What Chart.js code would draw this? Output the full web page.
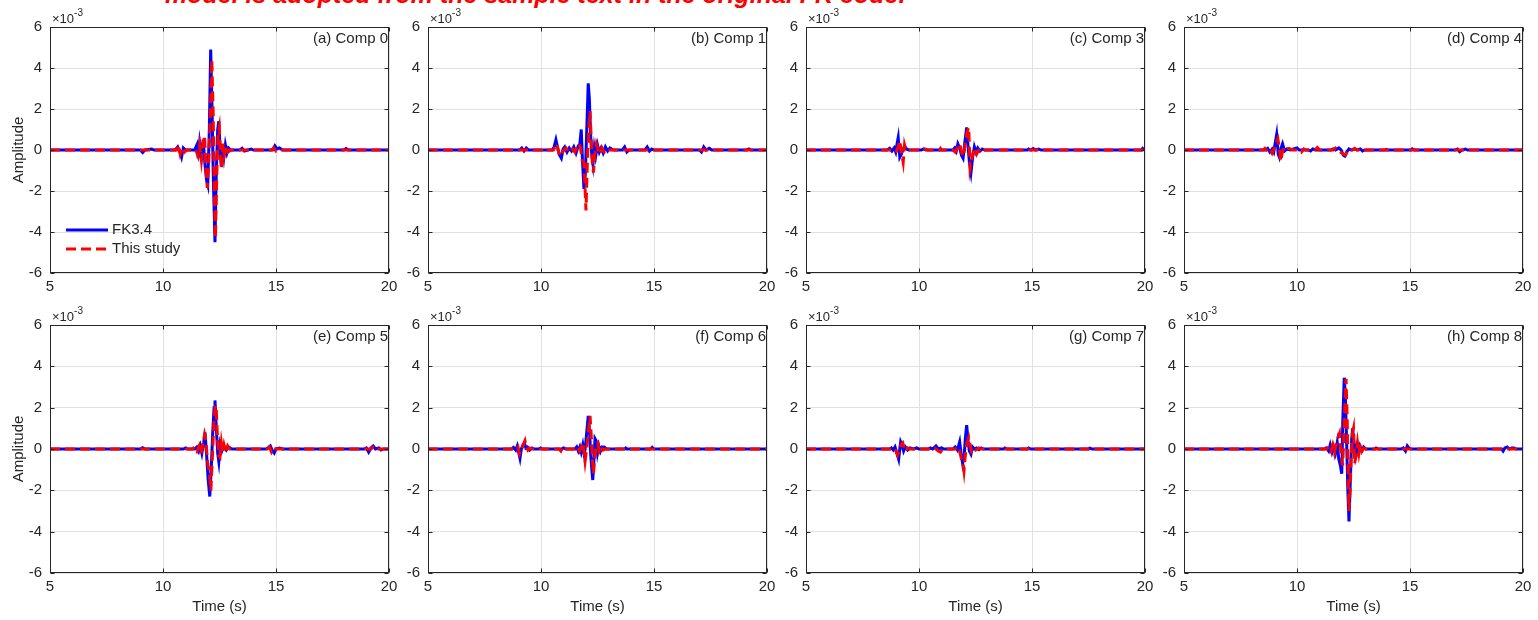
<!DOCTYPE html>
<html>
<head>
<meta charset="utf-8">
<script src="https://cdn.jsdelivr.net/npm/chart.js@4"></script>
<style>
  body { margin: 0; background: #fff; width: 1538px; height: 620px; overflow: hidden; position: relative; }
  .panel { position: absolute; }
  #title {
    position: absolute; left: 165px; top: -18px; white-space: nowrap;
    font: italic bold 25px "Liberation Sans", Arial, sans-serif; line-height: 25px; color: #ff0000;
  }
</style>
</head>
<body>
<div id="title">model is adopted from the sample text in the original FK code.</div>
<script>
// amplitudes are in units of 1e-3, pairs are [time (s), amplitude]
const xTicks = [5, 10, 15, 20];
const yTicks = [-6, -4, -2, 0, 2, 4, 6];
const seriesNames = ["FK3.4", "This study"];
const panelLabels = ["(a) Comp 0", "(b) Comp 1", "(c) Comp 3", "(d) Comp 4",
  "(e) Comp 5", "(f) Comp 6", "(g) Comp 7", "(h) Comp 8"];

const comp0Fk = [[5,0],[9.0,0],[9.1,-0.12],[9.2,0],[9.5,0.05],[9.6,0],[10.55,0],[10.65,0.15],[10.75,-0.1],[10.82,-0.35],[10.9,0.1],[11.0,0],[11.4,0],[11.5,0.25],[11.56,-0.4],[11.62,0.35],[11.7,-0.3],[11.78,0.5],[11.85,-0.6],[11.93,-1.5],[11.98,-1.7],[12.05,1.0],[12.11,4.9],[12.17,2.0],[12.23,-1.5],[12.3,-4.5],[12.36,-1.0],[12.42,1.0],[12.47,1.4],[12.52,0.2],[12.58,-0.8],[12.64,0.3],[12.7,-0.3],[12.76,0.25],[12.83,-0.15],[12.9,0.1],[13.0,0],[13.4,0],[13.5,0.08],[13.6,-0.05],[13.75,0],[13.9,0.05],[14.0,0],[14.85,0],[14.95,0.2],[15.05,0.05],[15.15,0.1],[15.3,0],[18.0,0],[18.1,0.07],[18.2,0],[20,0]];
const comp0Ts = [[5,0],[10.6,0],[10.68,0.25],[10.76,-0.2],[10.85,0.1],[10.95,-0.1],[11.05,0],[11.45,0],[11.55,-0.3],[11.62,0.25],[11.7,-0.5],[11.77,0.3],[11.84,0.7],[11.9,-0.9],[11.96,-1.85],[12.03,-0.5],[12.1,2.0],[12.16,4.4],[12.22,1.8],[12.27,-2.0],[12.32,-4.3],[12.38,-1.2],[12.44,0.8],[12.49,1.1],[12.55,-0.3],[12.6,-0.9],[12.66,0.3],[12.72,-0.2],[12.8,0.2],[12.88,-0.1],[13.0,0],[14.8,0],[14.9,0.1],[15.0,-0.05],[15.1,0],[20,0]];

const comp1Fk = [[5,0],[9.05,0],[9.15,0.1],[9.25,-0.05],[9.35,0.1],[9.45,0],[10.5,0],[10.58,0.15],[10.66,0.5],[10.74,0.1],[10.8,-0.2],[10.9,-0.4],[10.98,0.05],[11.05,0.15],[11.15,-0.1],[11.25,0.1],[11.35,-0.05],[11.45,0.15],[11.55,-0.15],[11.65,0.2],[11.72,0.3],[11.78,1.0],[11.84,-0.6],[11.9,-1.9],[11.96,-1.2],[12.02,0.8],[12.09,3.25],[12.14,2.5],[12.2,0.6],[12.25,-0.3],[12.3,-0.7],[12.36,0.1],[12.42,-0.3],[12.5,0.25],[12.58,-0.1],[12.66,0.1],[12.75,-0.15],[12.85,0.15],[12.95,-0.05],[13.05,0.1],[13.2,0],[13.6,0],[13.7,0.15],[13.8,-0.1],[13.9,0],[14.6,0],[14.7,0.15],[14.8,-0.05],[14.9,0.05],[15.0,0],[17.0,0],[17.1,-0.1],[17.2,0.15],[17.3,0],[17.45,0.08],[17.55,0],[19.1,0],[19.2,0.05],[19.3,0],[20,0]];
const comp1Ts = [[5,0],[10.05,0],[10.12,0.08],[10.2,0],[10.55,0],[10.62,0.15],[10.7,0.3],[10.78,-0.1],[10.88,-0.3],[10.98,-0.05],[11.1,0.1],[11.2,-0.05],[11.35,0.1],[11.5,-0.1],[11.6,0.15],[11.68,0.3],[11.75,0.1],[11.82,-0.5],[11.9,-0.6],[11.99,-2.95],[12.06,-0.3],[12.12,1.2],[12.17,1.9],[12.22,0.6],[12.27,-0.6],[12.32,-1.1],[12.38,-0.2],[12.45,0.3],[12.52,0.05],[12.6,-0.2],[12.7,0.1],[12.8,-0.1],[12.9,0.05],[13.0,0],[20,0]];

const comp3Fk = [[5,0],[8.6,0],[8.7,0.08],[8.8,-0.05],[8.9,0.1],[8.97,-0.1],[9.03,0.3],[9.08,0.6],[9.15,-0.35],[9.22,-0.2],[9.3,0.05],[9.36,0.2],[9.45,0.05],[9.55,0],[10.1,0],[10.2,0.05],[10.3,0],[11.5,0],[11.58,0.1],[11.65,-0.05],[11.72,0.3],[11.8,0.1],[11.88,-0.25],[11.95,-0.4],[12.03,0.4],[12.11,1.1],[12.17,0.2],[12.23,-0.6],[12.3,-1.1],[12.38,-0.3],[12.45,0.15],[12.52,-0.1],[12.6,0.1],[12.7,-0.05],[12.8,0.05],[12.9,0],[14.8,0],[14.85,0.05],[14.95,0],[15.05,0.07],[15.15,0],[15.3,0.05],[15.4,0],[19.85,0],[19.9,0.08],[20,0]];
const comp3Ts = [[5,0],[8.8,0],[8.9,0.05],[9.0,-0.05],[9.08,0.15],[9.15,0.45],[9.22,-0.1],[9.3,-0.6],[9.36,0.25],[9.42,0],[10.2,0],[10.25,0.05],[10.4,0],[10.9,0],[10.95,0.08],[11.0,0],[11.5,0],[11.6,-0.1],[11.7,0.1],[11.8,0.3],[11.88,-0.1],[11.97,-0.3],[12.05,0.3],[12.13,0.9],[12.2,1.1],[12.26,-0.9],[12.33,-0.5],[12.4,-0.1],[12.47,0.1],[12.55,-0.2],[12.62,-0.05],[12.7,0.05],[12.8,-0.05],[12.9,0],[20,0]];

const comp4Fk = [[5,0],[8.6,0],[8.7,0.08],[8.8,-0.1],[8.9,0.05],[8.97,-0.1],[9.03,0.3],[9.1,0.75],[9.17,-0.2],[9.22,-0.35],[9.3,0.1],[9.36,0.3],[9.45,-0.05],[9.55,0.05],[9.7,0],[9.85,0.05],[10.0,0.1],[10.1,0],[10.5,0],[10.6,-0.05],[10.7,0.05],[10.85,0],[11.5,0],[11.6,0.05],[11.7,0],[11.85,0.1],[11.95,0],[12.05,-0.25],[12.12,-0.3],[12.2,-0.1],[12.3,0.05],[12.4,0],[12.55,0.05],[12.65,0],[12.8,0.05],[12.9,-0.05],[13.0,0],[13.9,0],[13.95,0.03],[14.0,0],[15.05,0],[15.1,0.06],[15.2,0],[17.0,0],[17.1,0.05],[17.2,-0.08],[17.3,0],[17.45,0.05],[17.55,0],[20,0]];
const comp4Ts = [[5,0],[8.5,0],[8.58,0.08],[8.65,0],[8.8,0.1],[8.9,-0.15],[9.0,0.1],[9.08,0.35],[9.15,0.55],[9.22,0.1],[9.28,-0.55],[9.35,-0.1],[9.42,0.1],[9.5,0],[9.65,0.08],[9.8,0],[10.1,0],[10.2,-0.1],[10.3,0.05],[10.4,0],[10.8,0],[10.9,0.12],[11.0,0],[11.6,0],[11.7,0.1],[11.8,0],[12.05,-0.2],[12.15,-0.25],[12.25,0],[12.45,0],[12.55,0.08],[12.65,0],[12.85,0],[12.9,0.05],[13.0,0],[20,0]];

const comp5Fk = [[5,0],[9.0,0],[9.1,0.06],[9.2,0],[10.9,0],[11.0,0.05],[11.1,0],[11.4,0],[11.5,0.1],[11.58,-0.1],[11.65,0.15],[11.72,-0.2],[11.8,0.3],[11.86,0.8],[11.93,-0.3],[12.0,-1.5],[12.07,-2.3],[12.14,-0.8],[12.2,0.8],[12.26,2.0],[12.3,2.35],[12.36,1.0],[12.42,-0.2],[12.47,-0.6],[12.53,0.2],[12.6,-0.1],[12.68,0.15],[12.8,-0.05],[12.9,0.1],[13.05,0],[14.55,0],[14.65,0.05],[14.75,0.15],[14.85,-0.1],[14.92,-0.2],[15.0,0],[15.15,0.05],[15.3,0],[18.9,0],[19.0,0.05],[19.1,-0.15],[19.2,0.05],[19.3,0.15],[19.4,0],[19.55,0.05],[19.65,-0.05],[19.75,0],[20,0]];
const comp5Ts = [[5,0],[11.3,0],[11.4,0.1],[11.5,-0.1],[11.6,0.15],[11.68,-0.25],[11.76,0.2],[11.84,0.7],[11.9,0.4],[11.97,-0.6],[12.05,-1.2],[12.12,-2.0],[12.18,-0.5],[12.24,1.0],[12.3,2.0],[12.35,2.1],[12.4,0.8],[12.46,-0.3],[12.52,-0.4],[12.58,0.3],[12.64,-0.2],[12.7,0.2],[12.78,-0.15],[12.86,0.15],[12.95,0],[14.6,0],[14.7,0.1],[14.8,-0.15],[14.9,0.05],[15.0,0],[19.2,0],[19.3,0.1],[19.4,0],[20,0]];

const comp6Fk = [[5,0],[8.7,0],[8.78,0.08],[8.88,-0.05],[8.95,0.15],[9.02,-0.2],[9.07,-0.45],[9.13,0.0],[9.2,0.2],[9.26,0.3],[9.33,0.05],[9.4,0.1],[9.5,-0.05],[9.6,0.05],[9.7,0],[9.9,0],[9.98,0.05],[10.05,0],[10.9,0],[11.0,0.05],[11.1,0],[11.5,0],[11.58,0.1],[11.65,-0.1],[11.72,0.1],[11.78,-0.15],[11.85,0.2],[11.92,-0.3],[11.98,0.3],[12.04,1.0],[12.09,1.6],[12.15,0.8],[12.2,-0.3],[12.25,-1.0],[12.29,-1.5],[12.34,-0.6],[12.39,0.5],[12.44,0.4],[12.5,-0.2],[12.56,0.15],[12.63,-0.1],[12.7,0.1],[12.8,0.1],[12.9,0],[13.7,0],[13.75,0.05],[13.8,0],[14.85,0],[14.92,0.08],[15.0,0],[20,0]];
const comp6Ts = [[5,0],[8.9,0],[8.98,0.1],[9.05,-0.25],[9.12,-0.1],[9.2,0.15],[9.29,0.4],[9.35,0.1],[9.42,-0.05],[9.5,0.05],[9.6,0],[10.8,0],[10.88,-0.1],[10.95,0.05],[11.05,-0.05],[11.1,0],[11.55,0],[11.62,0.1],[11.7,-0.1],[11.78,0.1],[11.86,0.3],[11.95,-0.6],[12.03,0.1],[12.1,0.9],[12.17,1.6],[12.23,0.5],[12.28,-0.6],[12.32,-1.2],[12.38,-0.4],[12.45,0.2],[12.52,0.3],[12.58,-0.1],[12.66,0.1],[12.74,-0.05],[12.85,0],[20,0]];

const comp7Fk = [[5,0],[8.7,0],[8.78,0.05],[8.86,-0.05],[8.94,0.1],[9.02,-0.2],[9.1,-0.5],[9.15,0.0],[9.19,0.35],[9.25,0.2],[9.32,-0.1],[9.4,0.1],[9.5,-0.05],[9.6,0.05],[9.75,0],[9.9,0.05],[10.0,0],[10.4,0],[10.5,0.05],[10.6,0],[10.75,0.15],[10.85,0],[11.0,0.05],[11.1,0],[11.5,0],[11.6,0.1],[11.7,-0.05],[11.8,0.35],[11.86,-0.2],[11.93,-0.7],[12.0,-0.3],[12.05,0.5],[12.11,1.15],[12.17,0.4],[12.23,-0.1],[12.3,-0.25],[12.37,0.1],[12.45,0],[12.55,0.05],[12.65,-0.03],[12.75,0.05],[12.85,0],[13.75,0],[13.8,0.05],[13.9,0],[14.8,0],[14.85,0.05],[14.95,0],[17.5,0],[17.55,0.04],[17.65,0],[20,0]];
const comp7Ts = [[5,0],[8.8,0],[8.9,0.05],[8.98,-0.1],[9.05,-0.3],[9.12,-0.1],[9.2,0.2],[9.28,0.3],[9.35,0.05],[9.42,-0.1],[9.5,0.05],[9.6,0],[10.6,0],[10.7,0.05],[10.85,-0.1],[10.95,-0.15],[11.05,0],[11.6,0],[11.7,0.1],[11.8,-0.1],[11.88,-0.5],[11.95,-0.7],[11.99,-1.05],[12.05,-0.3],[12.12,0.3],[12.2,0.55],[12.26,0.2],[12.32,-0.1],[12.4,0.05],[12.5,-0.05],[12.65,0.05],[12.75,0],[20,0]];

const comp8Fk = [[5,0],[11.2,0],[11.3,0.05],[11.4,-0.1],[11.47,0.2],[11.55,-0.15],[11.62,0.1],[11.7,-0.2],[11.78,0.3],[11.85,-0.5],[11.92,-0.8],[11.98,-1.2],[12.03,1.5],[12.09,3.45],[12.14,2.5],[12.2,0.2],[12.25,-2.0],[12.3,-3.5],[12.36,-1.5],[12.42,0.5],[12.46,1.0],[12.52,0.3],[12.58,-0.3],[12.64,0.1],[12.7,-0.15],[12.78,0.15],[12.86,-0.1],[12.95,0.1],[13.05,0],[13.45,0],[13.5,0.05],[13.6,0],[14.6,0],[14.7,0.05],[14.8,-0.1],[14.88,0.15],[14.95,0.05],[15.05,0],[19.05,0],[19.12,-0.1],[19.2,0.05],[19.3,0.1],[19.4,0],[19.5,0.05],[19.6,0.05],[19.7,0],[20,0]];
const comp8Ts = [[5,0],[11.3,0],[11.4,0.1],[11.5,-0.1],[11.58,0.2],[11.66,-0.2],[11.74,0.3],[11.8,0.5],[11.88,0.75],[11.95,-0.2],[12.02,-0.8],[12.08,0.8],[12.14,2.8],[12.17,3.4],[12.22,1.5],[12.26,-1.0],[12.3,-3.0],[12.35,-2.0],[12.4,-0.3],[12.46,0.8],[12.5,1.0],[12.55,-0.7],[12.62,-0.3],[12.68,0.3],[12.74,-0.2],[12.8,0.25],[12.88,-0.1],[12.97,0.05],[13.05,0],[20,0]];

const fkSeries = [comp0Fk, comp1Fk, comp3Fk, comp4Fk, comp5Fk, comp6Fk, comp7Fk, comp8Fk];
const tsSeries = [comp0Ts, comp1Ts, comp3Ts, comp4Ts, comp5Ts, comp6Ts, comp7Ts, comp8Ts];

// layout of the 2x4 grid (plot areas)
const colLefts = [50, 428, 806, 1184];
const plotWidth = 339;
const rowTops = [27, 325];
const rowHeights = [246, 248];
const PAD_TOP = 27, PAD_RIGHT = 8, Y_WIDTH = 50, X_HEIGHT = 47;
const textColor = "#262626";
const fontFamily = '"Liberation Sans", Arial, sans-serif';

const framePlugin = {
  id: "frame",
  afterDraw(chart, args, opts) {
    const { ctx, chartArea: a, scales } = chart;
    ctx.save();
    ctx.strokeStyle = textColor;
    ctx.lineWidth = 1;
    const l = Math.round(a.left) + 0.5, r = Math.round(a.right) - 0.5;
    const t = Math.round(a.top) + 0.5, b = Math.round(a.bottom) - 0.5;
    ctx.strokeRect(l, t, r - l, b - t);
    // inward tick marks like matlab
    ctx.beginPath();
    for (const v of yTicks) {
      const y = Math.round(scales.y.getPixelForValue(v)) + 0.5;
      ctx.moveTo(l, y); ctx.lineTo(l + 4, y);
      ctx.moveTo(r, y); ctx.lineTo(r - 4, y);
    }
    for (const v of xTicks) {
      const x = Math.round(scales.x.getPixelForValue(v)) + 0.5;
      ctx.moveTo(x, b); ctx.lineTo(x, b - 4);
      ctx.moveTo(x, t); ctx.lineTo(x, t + 4);
    }
    ctx.stroke();

    // exponent marker
    ctx.fillStyle = textColor;
    ctx.textAlign = "left";
    ctx.textBaseline = "alphabetic";
    ctx.font = "13px " + fontFamily;
    ctx.fillText("\u00d710", a.left + 2, a.top - 4);
    const w = ctx.measureText("\u00d710").width;
    ctx.font = "10px " + fontFamily;
    ctx.fillText("-3", a.left + 2 + w, a.top - 11);

    // panel label
    ctx.font = "15px " + fontFamily;
    ctx.textAlign = "right";
    ctx.textBaseline = "middle";
    ctx.fillText(opts.label, a.right - 1, a.top + 12);

    // legend (first panel only)
    if (opts.legend) {
      const ds = chart.data.datasets;
      ds.forEach((d, i) => {
        const y = a.bottom - 43 + i * 19;
        ctx.beginPath();
        ctx.strokeStyle = d.borderColor;
        ctx.lineWidth = d.borderWidth;
        ctx.setLineDash(d.borderDash || []);
        ctx.moveTo(a.left + 16, y);
        ctx.lineTo(a.left + 58, y);
        ctx.stroke();
        ctx.setLineDash([]);
        ctx.fillStyle = textColor;
        ctx.textAlign = "left";
        ctx.font = "15px " + fontFamily;
        ctx.fillText(d.label, a.left + 62, y);
      });
    }
    ctx.restore();
  },
};

function toPoints(pairs) {
  return pairs.map(([x, y]) => ({ x, y }));
}

function makePanel(i) {
  const row = Math.floor(i / 4), col = i % 4;
  const canvas = document.createElement("canvas");
  const w = Y_WIDTH + plotWidth + PAD_RIGHT;
  const h = PAD_TOP + rowHeights[row] + X_HEIGHT;
  canvas.width = w; canvas.height = h;
  canvas.className = "panel";
  canvas.style.left = (colLefts[col] - Y_WIDTH) + "px";
  canvas.style.top = (rowTops[row] - PAD_TOP) + "px";
  canvas.style.width = w + "px"; canvas.style.height = h + "px";
  document.body.appendChild(canvas);

  const tickFont = { family: fontFamily, size: 15 };
  new Chart(canvas.getContext("2d"), {
    type: "line",
    data: {
      datasets: [
        {
          label: seriesNames[0], data: toPoints(fkSeries[i]),
          borderColor: "#0000ff", borderWidth: 3, pointRadius: 0,
          tension: 0, order: 1,
        },
        {
          label: seriesNames[1], data: toPoints(tsSeries[i]),
          borderColor: "#ff0000", borderWidth: 3, borderDash: [10, 5],
          pointRadius: 0, tension: 0, order: 0,
        },
      ],
    },
    options: {
      responsive: false,
      animation: false,
      devicePixelRatio: 1,
      events: [],
      layout: { padding: { top: PAD_TOP, right: PAD_RIGHT, left: 0, bottom: 0 } },
      plugins: {
        legend: { display: false },
        tooltip: { enabled: false },
        frame: { label: panelLabels[i], legend: i === 0 },
      },
      scales: {
        x: {
          type: "linear", min: 5, max: 20,
          afterBuildTicks: (s) => { s.ticks = xTicks.map((v) => ({ value: v })); },
          afterFit: (s) => { s.height = X_HEIGHT; s.paddingLeft = 0; s.paddingRight = 0; },
          ticks: { font: tickFont, color: textColor, padding: 5, maxRotation: 0, autoSkip: false },
          grid: { color: "#e1e1e1", drawTicks: false },
          border: { display: false },
          title: {
            display: row === 1, text: "Time (s)", color: textColor,
            font: tickFont, padding: { top: 0, bottom: 4 },
          },
        },
        y: {
          type: "linear", min: -6, max: 6,
          afterBuildTicks: (s) => { s.ticks = yTicks.map((v) => ({ value: v })); },
          afterFit: (s) => { s.width = Y_WIDTH; s.paddingTop = 0; s.paddingBottom = 0; },
          ticks: { font: tickFont, color: textColor, padding: 8 },
          grid: { color: "#e1e1e1", drawTicks: false },
          border: { display: false },
          title: {
            display: col === 0, text: "Amplitude", color: textColor,
            font: tickFont, padding: { top: 10, bottom: 0 },
          },
        },
      },
    },
    plugins: [framePlugin],
  });
}

for (let i = 0; i < 8; i++) makePanel(i);
</script>
</body>
</html>
